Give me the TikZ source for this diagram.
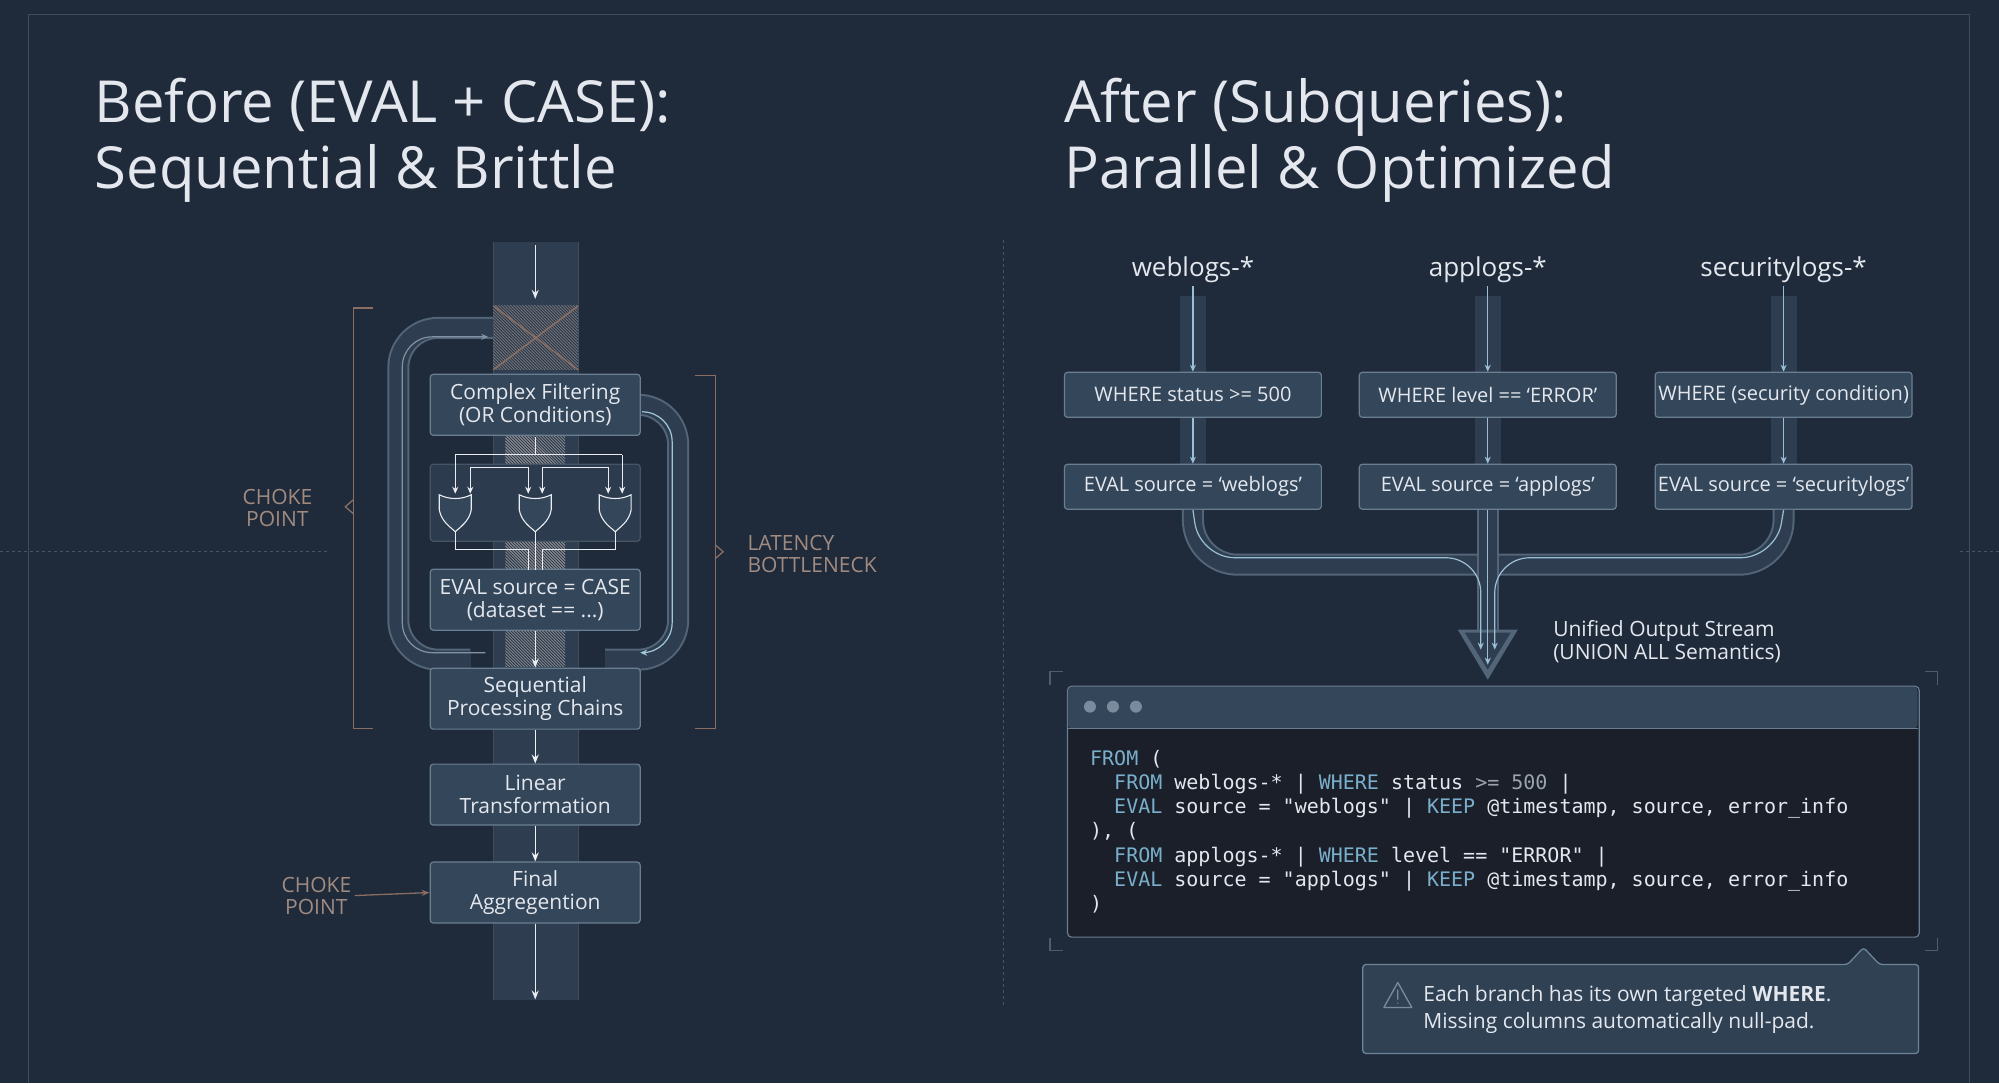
\documentclass[tikz,border=0pt]{standalone}
\usepackage{fontspec}
\setmainfont{Open Sans}
\setmonofont{DejaVu Sans Mono}
\usetikzlibrary{arrows.meta,patterns,decorations.pathreplacing}
\definecolor{bg}{HTML}{1F2B3B}
\definecolor{boxf}{HTML}{34465A}
\definecolor{boxd}{HTML}{6A7E92}
\definecolor{txt}{HTML}{E4E8EE}
\definecolor{brk}{HTML}{8A6E62}
\definecolor{pipe}{HTML}{2E3E50}
\definecolor{codebg}{HTML}{1A1F2A}
\definecolor{kw}{HTML}{7AAFCB}
\definecolor{num}{HTML}{9AA4AE}
\begin{document}
\begin{tikzpicture}[x=1pt,y=-1pt,
  box/.style={draw=boxd,fill=boxf,rounded corners=3pt,line width=1.2pt,text=txt,align=center,font=\fontsize{21}{23}\selectfont,minimum width=210pt,minimum height=61pt,inner sep=0pt},
  rbox/.style={draw=boxd,fill=boxf,rounded corners=3pt,line width=1.2pt,text=txt,font=\fontsize{20}{22}\selectfont,minimum width=257pt,minimum height=45pt,inner sep=0pt},
  arr/.style={-{Stealth[length=9pt,width=7pt]},line width=1.4pt,draw=txt!85},
  sarr/.style={-{Stealth[length=7pt,width=6pt]},line width=1.2pt,draw=kw!70!txt},
  brk/.style={draw=brk,line width=1.3pt},
  lbl/.style={text=brk!80!white,font=\fontsize{21}{22}\selectfont,align=left},
  pipeS/.style={draw=boxd!70!bg,line width=22pt,rounded corners=40pt},
  pipeI/.style={draw=pipe,line width=18pt,rounded corners=40pt},
  title/.style={text=txt,font=\fontsize{58}{66}\selectfont,align=left,anchor=north west,inner sep=0pt}]
\fill[bg] (0,0) rectangle (1999,1084);
\draw[boxd!40!bg,line width=1pt] (28,15) -- (1970,15) -- (1970,1084);
\draw[boxd!40!bg,line width=1pt] (28,15) -- (28,1084);
\draw[boxd!50!bg,dashed,line width=1pt] (0,552) -- (330,552);
\draw[boxd!50!bg,dashed,line width=1pt] (1960,552) -- (1999,552);
\draw[boxd!50!bg,dashed,line width=1pt] (1003,240) -- (1003,1005);
% titles
\node[title] (t1) at (94,78) {Before (EVAL + CASE):\\Sequential \& Brittle};
\node[title] (t2) at (1064,78) {After (Subqueries):\\Parallel \& Optimized};
% LEFT
\fill[pipe] (493,242) rectangle (578,1000);
\draw[boxd!40!bg,line width=1pt] (493,242) -- (493,1000) (578,242) -- (578,1000);
\fill[pattern=north west lines,pattern color=brk!70] (493,306) rectangle (578,370);
\draw[brk,line width=1.5pt] (493,306) -- (578,370) (578,306) -- (493,370);
\fill[pattern=north west lines,pattern color=brk!45] (505,437) rectangle (565,667);
% loops
\draw[pipeS] (493,328) -- (398,328) -- (398,660) -- (470,660);
\draw[pipeI] (493,328) -- (398,328) -- (398,660) -- (470,660);
\draw[pipeS] (640,405) -- (678,405) -- (678,660) -- (605,660);
\draw[pipeI] (640,405) -- (678,405) -- (678,660) -- (605,660);
\draw[sarr,draw=boxd!80!txt,rounded corners=30pt] (485,653) -- (402,653) -- (402,337) -- (488,337);
\draw[sarr,draw=kw!70,rounded corners=30pt] (642,412) -- (672,412) -- (672,653) -- (640,653);
% boxes
\node[box] (cf) at (535,405) {Complex Filtering\\(OR Conditions)};
\node[box,minimum height=77pt,fill=boxf!60!bg,draw=boxd!50!bg] (gates) at (535,503) {};
\node[box] (ec) at (535,600) {EVAL source = CASE\\(dataset == ...)};
\node[box] (sp) at (535,699) {Sequential\\Processing Chains};
\node[box] (lt) at (535,795) {Linear\\Transformation};
\node[box] (fa) at (535,893) {Final\\Aggregention};
% gates
\foreach \gx/\nm in {455/g1,535/g2,615/g3}{
  \draw[txt!80,line width=1.1pt,fill=boxf] (\gx-16,495) .. controls (\gx-6,500) and (\gx+6,500) .. (\gx+16,495) -- (\gx+16,510) .. controls (\gx+14,522) and (\gx+4,528) .. (\gx,532) .. controls (\gx-4,528) and (\gx-14,522) .. (\gx-16,510) -- cycle;
  \coordinate (\nm) at (\gx,536);
}
\draw[txt!80,line width=1.1pt] (535,437) -- (535,455) (455,455) -- (622,455);
\draw[sarr,draw=txt!80] (455,455) -- (455,494);
\draw[sarr,draw=txt!80] (622,455) -- (622,494);
\draw[sarr,draw=txt!80] (470,468) -- (470,494);
\draw[sarr,draw=txt!80] (470,468) -- (528,468) -- (528,494);
\draw[sarr,draw=txt!80] (542,468) -- (542,494);
\draw[sarr,draw=txt!80] (542,468) -- (608,468) -- (608,494);
\draw[txt!80,line width=1.1pt] (455,532) -- (455,550) -- (528,550) -- (528,570);
\draw[txt!80,line width=1.1pt] (615,532) -- (615,550) -- (542,550) -- (542,570);
\draw[txt!80,line width=1.1pt] (535,532) -- (535,570);
% arrows
\coordinate (top) at (535,245);
\coordinate (bot) at (535,1000);
\draw[arr] (top) -- (535,299);
\draw[arr] (ec) -- (sp);
\draw[arr,draw=txt!60] (sp) -- (lt);
\draw[arr,draw=txt!60] (lt) -- (fa);
\draw[arr] (fa) -- (bot);
% brackets
\draw[brk] (373,308) -- (353,308) -- (353,729) -- (373,729);
\draw[brk] (353,500) -- (345,507) -- (353,514);
\draw[brk] (695,376) -- (715,376) -- (715,729) -- (695,729);
\draw[brk] (715,545) -- (723,552) -- (715,559);
\node[lbl,align=center] (cp1) at (277,508) {CHOKE\\POINT};
\node[lbl] (lb1) at (812,554) {LATENCY\\BOTTLENECK};
\node[lbl,align=center] (cp2) at (316,896) {CHOKE\\POINT};
\draw[-{Stealth[length=8pt]},brk,line width=1.3pt] (cp2.east) -- (fa.west);
% RIGHT
\foreach \cx/\nm/\lab/\wh/\ev in {1193/a/weblogs-*/{WHERE status >= 500}/{EVAL source = ‘weblogs’},1488/b/applogs-*/{WHERE level == ‘ERROR’}/{EVAL source = ‘applogs’},1784/c/securitylogs-*/{WHERE (security condition)}/{EVAL source = ‘securitylogs’}}{
  \node[text=txt,font=\fontsize{26}{28}\selectfont] (l\nm) at (\cx,270) {\lab};
  \fill[pipe] (\cx-13,296) rectangle (\cx+13,372);
  \fill[pipe] (\cx-13,417) rectangle (\cx+13,464);
  \node[rbox] (w\nm) at (\cx,395) {\wh};
  \node[rbox] (e\nm) at (\cx,487) {\ev};
  \draw[sarr] (l\nm) -- (w\nm);
  \draw[sarr] (w\nm) -- (e\nm);
}
\draw[pipeS,rounded corners=45pt] (ea.south) -- (1193,565) -- (1784,565) -- (ec.south);
\draw[pipeI,rounded corners=45pt] (ea.south) -- (1193,565) -- (1784,565) -- (ec.south);
\draw[pipeS] (eb.south) -- (1488,650);
\draw[pipeI] (eb.south) -- (1488,650);
\fill[boxd!70!bg] (1458,630) -- (1518,630) -- (1488,680) -- cycle;
\fill[pipe] (1465,633) -- (1511,633) -- (1488,670) -- cycle;
\draw[sarr,rounded corners=35pt] (ea.south) -- (1200,558) -- (1481,558) -- (1481,650);
\draw[sarr,rounded corners=35pt] (ec.south) -- (1776,558) -- (1495,558) -- (1495,650);
\draw[sarr] (eb.south) -- (1488,665);
\node[text=txt,font=\fontsize{21}{23}\selectfont,align=left,anchor=west] (uo) at (1550,642) {Unified Output Stream\\(UNION ALL Semantics)};
% code window
\draw[boxd!60!bg,line width=1.2pt] (1050,685) -- (1050,672) -- (1063,672) (1925,672) -- (1938,672) -- (1938,685) (1050,938) -- (1050,951) -- (1063,951) (1925,951) -- (1938,951) -- (1938,938);
\node[draw=boxd,fill=codebg,rounded corners=4pt,line width=1.2pt,minimum width=852pt,minimum height=251pt,anchor=north west,inner sep=0pt] (code) at (1067,686) {};
\fill[boxf,rounded corners=4pt] (1068,687) rectangle (1918,729);
\draw[boxd,line width=1pt] (1068,729) -- (1918,729);
\foreach \dx in {1090,1113,1136}{\fill[boxd!90!white] (\dx,707) circle (6pt);}
\node[anchor=north west,inner sep=0pt,align=left,text=txt,font=\ttfamily\fontsize{20}{24.3}\selectfont] (src) at (1090,750) {%
\textcolor{kw}{FROM} (\\
\ \ \textcolor{kw}{FROM} weblogs-* | \textcolor{kw}{WHERE} status \textcolor{num}{>= 500} |\\
\ \ \textcolor{kw}{EVAL} source = "weblogs" | \textcolor{kw}{KEEP} @timestamp, source, error\_info\\
), (\\
\ \ \textcolor{kw}{FROM} applogs-* | \textcolor{kw}{WHERE} level == "ERROR" |\\
\ \ \textcolor{kw}{EVAL} source = "applogs" | \textcolor{kw}{KEEP} @timestamp, source, error\_info\\
)};
% callout
\draw[draw=boxd!90!kw,fill=boxf!80!bg,line width=1.3pt,rounded corners=3pt] (1363,965) -- (1848,965) -- (1864,948) -- (1880,965) -- (1919,965) -- (1919,1054) -- (1363,1054) -- cycle;
\draw[boxd!90!white,line width=1.3pt,line join=round] (1384,1008) -- (1398,983) -- (1412,1008) -- cycle (1398,990) -- (1398,1000) (1398,1003) -- (1398,1004);
\node[anchor=west,text=txt,align=left,font=\fontsize{21}{27}\selectfont] (note) at (1420,1010) {Each branch has its own targeted \textbf{WHERE}.\\Missing columns automatically null-pad.};
\end{tikzpicture}
\end{document}
